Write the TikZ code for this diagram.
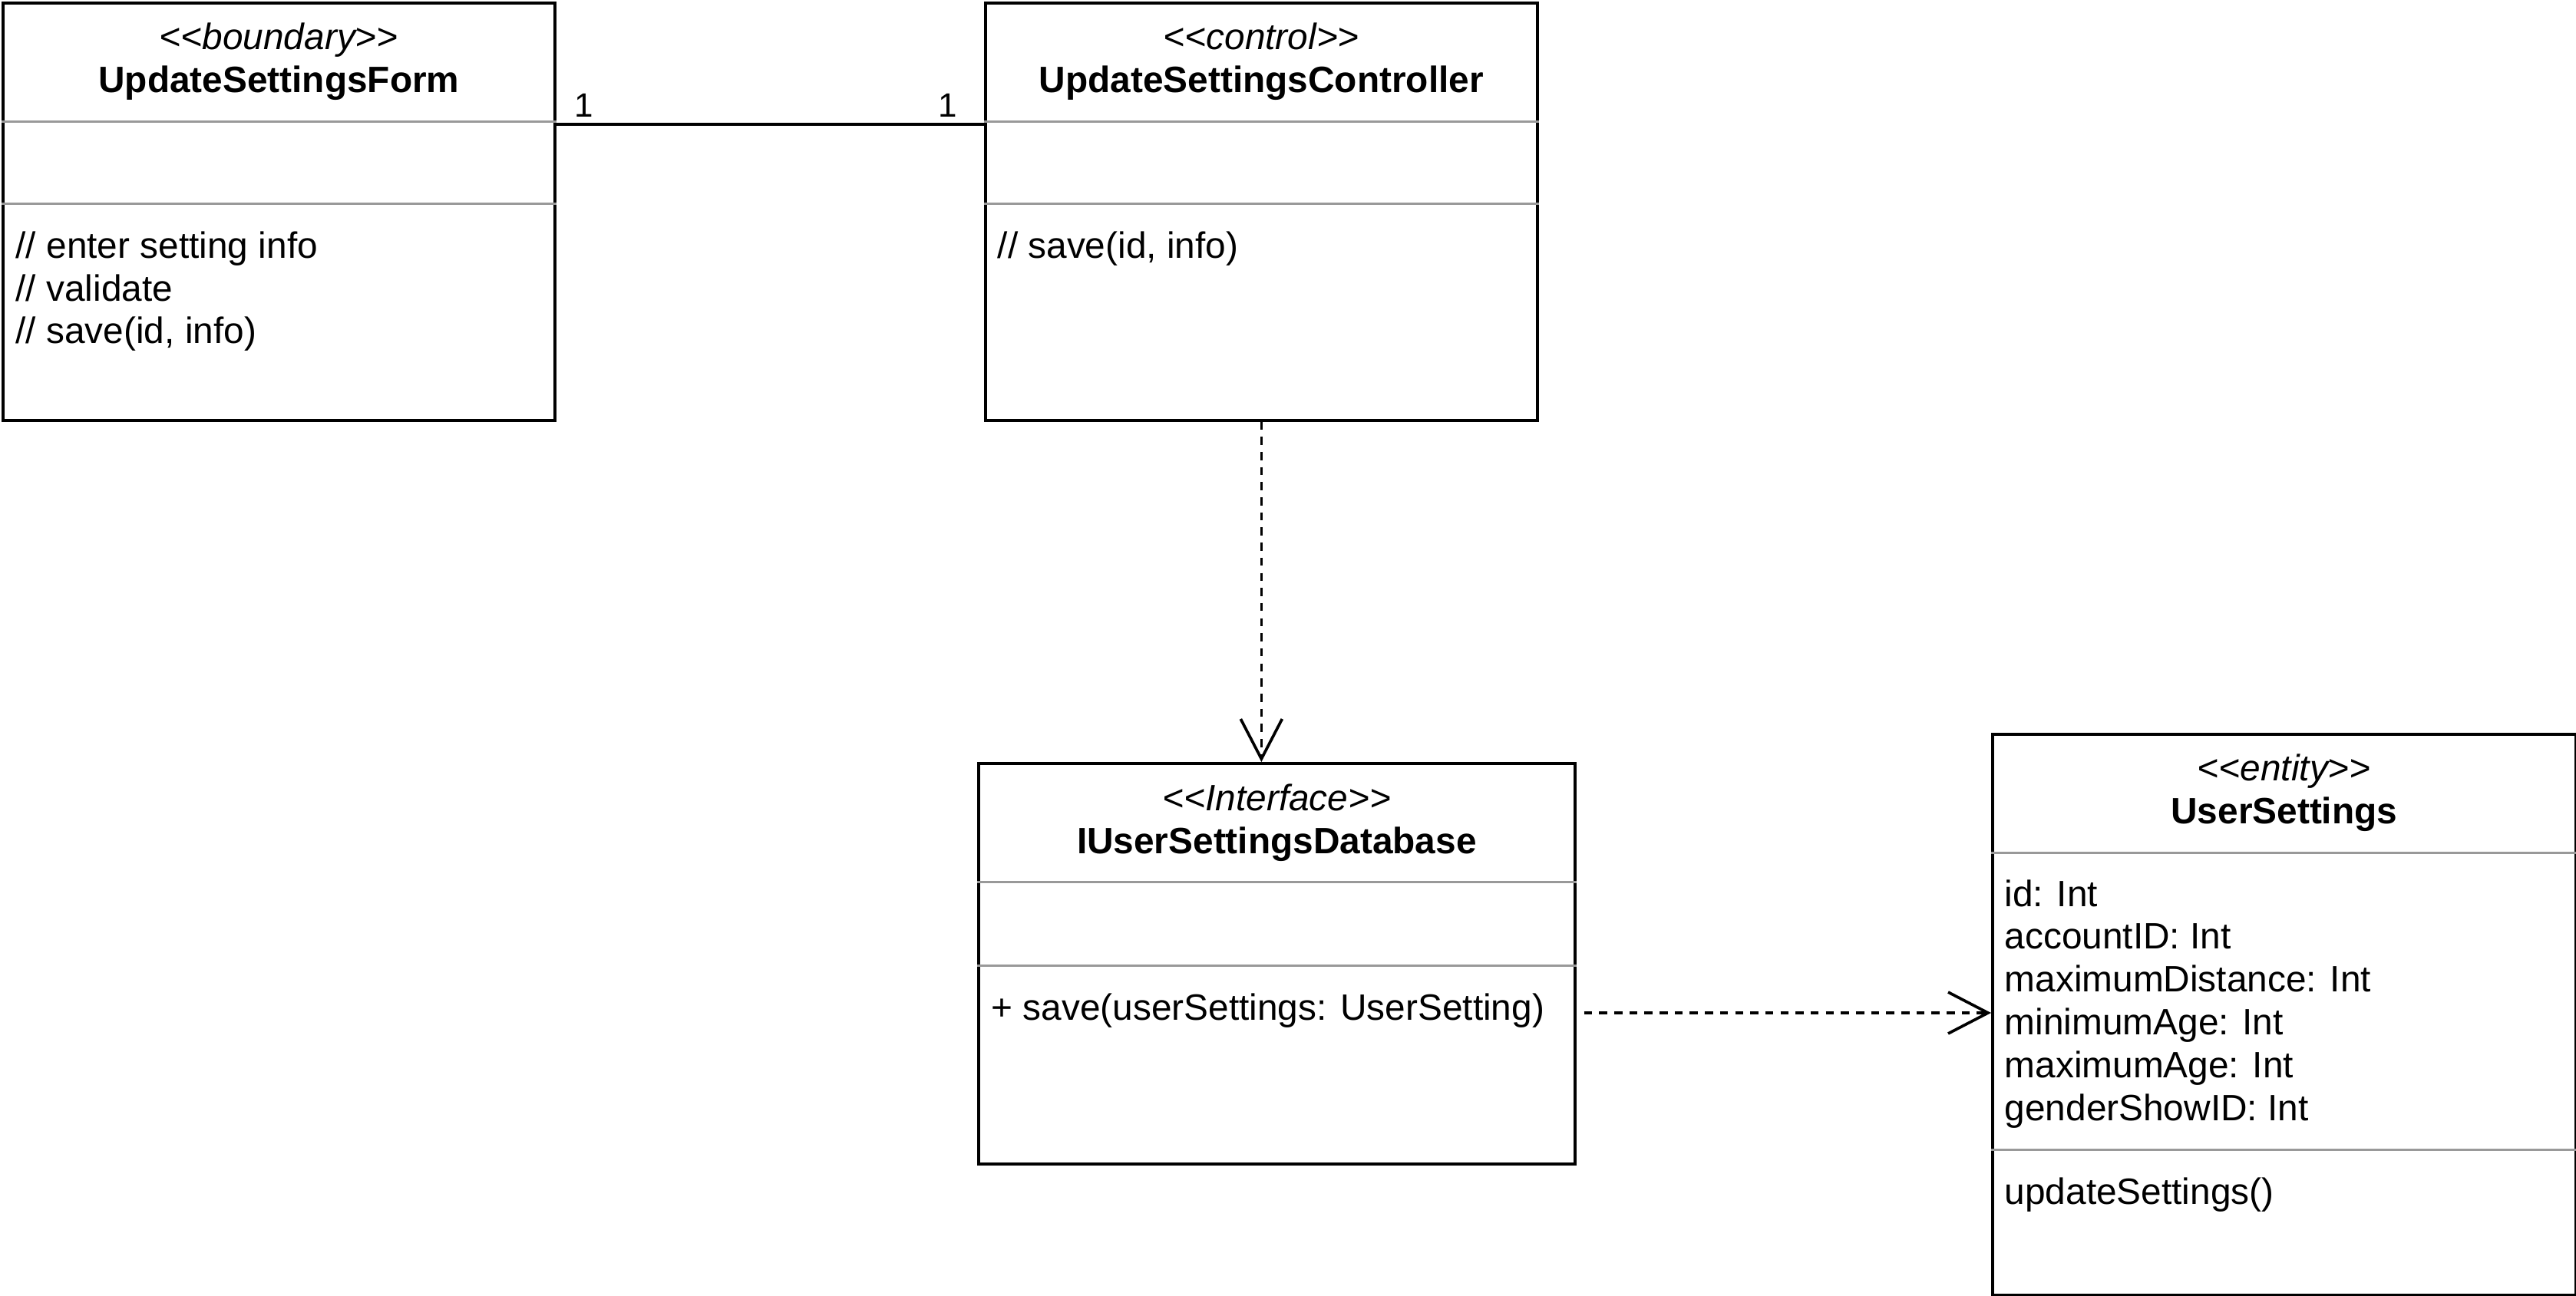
\documentclass[tikz,border=0pt]{standalone}
\usepackage{fontspec}
\setmainfont{Liberation Sans}
\usepackage{tikz}
\usetikzlibrary{positioning, arrows.meta}

\begin{document}
\begin{tikzpicture}[
    classbox/.style={draw, rectangle, line width=1.05pt, anchor=north west, inner sep=0pt}, % class frame
    sepline/.style={draw=black!40, line width=0.85pt},
    stereo/.style={font=\fontsize{13.6}{15.9}\selectfont\itshape, anchor=base, inner sep=0pt},
    cname/.style={font=\fontsize{13.6}{15.9}\selectfont\bfseries, anchor=base, inner sep=0pt},
    member/.style={font=\fontsize{13.6}{15.9}\selectfont, anchor=base west, inner sep=0pt},
    multstyle/.style={font=\fontsize{12.5}{15}\selectfont, anchor=base, inner sep=0pt},
    assocstyle/.style={line width=1.05pt},
    depstyle/.style={-{Straight Barb[length=5.2mm, width=5.4mm]}, line width=1.05pt, dash pattern=on 3pt off 2.6pt}
]
\useasboundingbox (0,0) rectangle (33.56,-16.88);

% Class frames
\node[classbox, minimum width=7.19cm, minimum height=5.44cm] (form) at (0.02,-0.02) {};
\node[classbox, minimum width=7.19cm, minimum height=5.44cm] (ctrl) at (12.82,-0.02) {};
\node[classbox, minimum width=7.77cm, minimum height=5.22cm] (idb) at (12.73,-9.93) {};
\node[classbox, minimum width=7.60cm, minimum height=7.31cm] (ents) at (25.94,-9.55) {};

% Compartment separators
\draw[sepline] ([yshift=-1.56cm]form.north west) -- ([yshift=-1.56cm]form.north east);
\draw[sepline] ([yshift=-2.63cm]form.north west) -- ([yshift=-2.63cm]form.north east);
\draw[sepline] ([yshift=-1.56cm]ctrl.north west) -- ([yshift=-1.56cm]ctrl.north east);
\draw[sepline] ([yshift=-2.63cm]ctrl.north west) -- ([yshift=-2.63cm]ctrl.north east);
\draw[sepline] ([yshift=-1.56cm]idb.north west) -- ([yshift=-1.56cm]idb.north east);
\draw[sepline] ([yshift=-2.65cm]idb.north west) -- ([yshift=-2.65cm]idb.north east);
\draw[sepline] ([yshift=-1.56cm]ents.north west) -- ([yshift=-1.56cm]ents.north east);
\draw[sepline] ([yshift=-5.43cm]ents.north west) -- ([yshift=-5.43cm]ents.north east);

% UpdateSettingsForm
\node[stereo, below=0.62cm of form.north, anchor=base] (form_st) {{<}{<}boundary{>}{>}};
\node[cname, below=1.18cm of form.north, anchor=base] (form_nm) {UpdateSettingsForm};
\node[member, below right=3.34cm and 0.18cm of form.north west, anchor=base west] (form_m1) {// enter setting info};
\node[member, below=0.56cm of form_m1.base west, anchor=base west] (form_m2) {// validate};
\node[member, below=0.55cm of form_m2.base west, anchor=base west] (form_m3) {// save(id, info)};

% UpdateSettingsController
\node[stereo, below=0.62cm of ctrl.north, anchor=base] (ctrl_st) {{<}{<}control{>}{>}};
\node[cname, below=1.18cm of ctrl.north, anchor=base] (ctrl_nm) {UpdateSettingsController};
\node[member, below right=3.34cm and 0.17cm of ctrl.north west, anchor=base west] (ctrl_m1) {// save(id, info)};

% IUserSettingsDatabase
\node[stereo, below=0.63cm of idb.north, anchor=base] (idb_st) {{<}{<}Interface{>}{>}};
\node[cname, below=1.19cm of idb.north, anchor=base] (idb_nm) {IUserSettingsDatabase};
\node[member, below right=3.36cm and 0.18cm of idb.north west, anchor=base west] (idb_m1) {+ save(userSettings: UserSetting)};

% UserSettings
\node[stereo, below=0.62cm of ents.north, anchor=base] (ents_st) {{<}{<}entity{>}{>}};
\node[cname, below=1.18cm of ents.north, anchor=base] (ents_nm) {UserSettings};
\node[member, below right=2.26cm and 0.17cm of ents.north west, anchor=base west] (ents_a1) {id: Int};
\node[member, below=0.558cm of ents_a1.base west, anchor=base west] (ents_a2) {accountID: Int};
\node[member, below=0.558cm of ents_a2.base west, anchor=base west] (ents_a3) {maximumDistance: Int};
\node[member, below=0.558cm of ents_a3.base west, anchor=base west] (ents_a4) {minimumAge: Int};
\node[member, below=0.558cm of ents_a4.base west, anchor=base west] (ents_a5) {maximumAge: Int};
\node[member, below=0.558cm of ents_a5.base west, anchor=base west] (ents_a6) {genderShowID: Int};
\node[member, below right=6.14cm and 0.17cm of ents.north west, anchor=base west] (ents_m1) {updateSettings()};

% Association 1 -- 1
\draw[assocstyle] ([yshift=-1.60cm]form.north east) -- ([yshift=-1.60cm]ctrl.north west);
\node[multstyle, below right=1.50cm and 0.36cm of form.north east, anchor=base] (mult_form) {1};
\node[multstyle, below left=1.50cm and 0.47cm of ctrl.north west, anchor=base] (mult_ctrl) {1};

% Dependencies
\draw[depstyle] (ctrl.south) -- (ctrl.south |- idb.north);
\coordinate (dep_start) at ([xshift=0.10cm, yshift=-3.27cm]idb.north east);
\draw[depstyle] (dep_start) -- (dep_start -| ents.west);

\end{tikzpicture}
\end{document}
